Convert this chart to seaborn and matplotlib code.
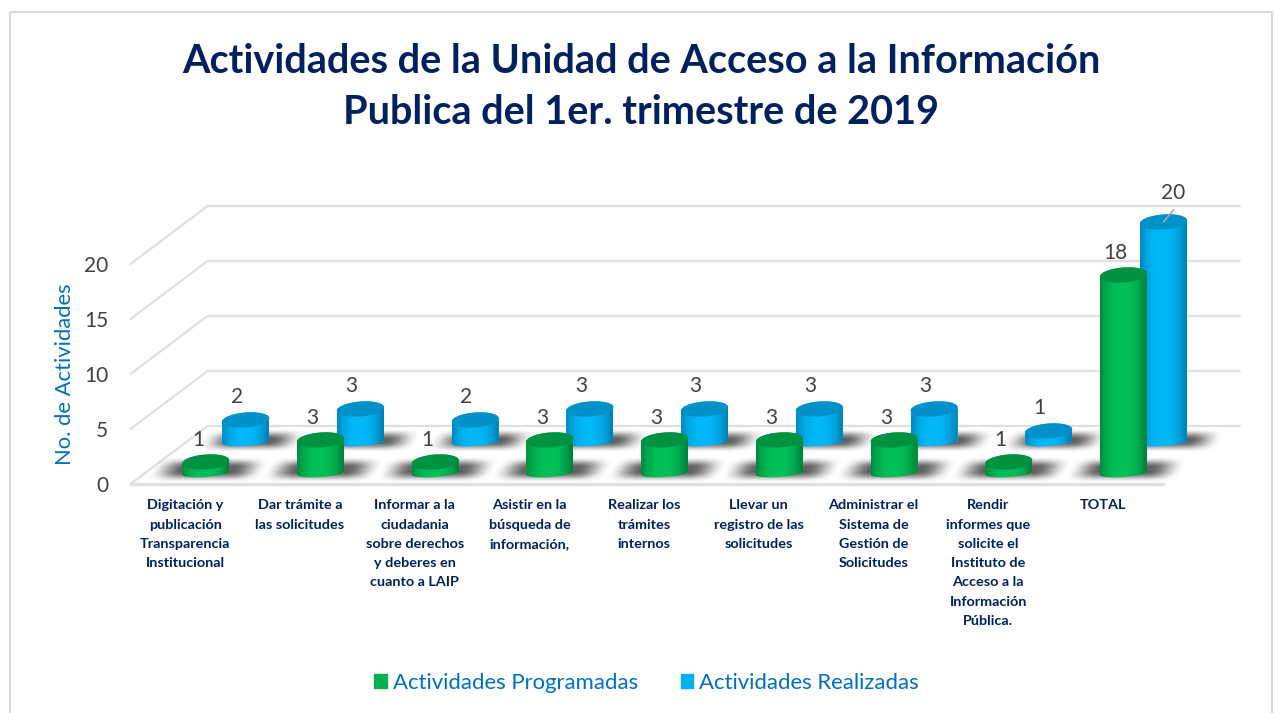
import numpy as np
import pandas as pd
import matplotlib
matplotlib.use("Agg")
import matplotlib.pyplot as plt
import seaborn as sns
from matplotlib.patches import Patch, Rectangle, PathPatch
from matplotlib.path import Path
from matplotlib.colors import to_rgb
from matplotlib.transforms import Affine2D

# Datos del grafico
categorias = ["Digitación", "Trámite", "Informar", "Asistir", "Realizar",
              "Registro", "Administrar", "Rendir", "TOTAL"]
etiquetas = [
    "Digitación y\npublicación\nTransparencia\nInstitucional",
    "Dar trámite a\nlas solicitudes",
    "Informar a la\nciudadania\nsobre derechos\ny deberes en\ncuanto a LAIP",
    "Asistir en la\nbúsqueda de\ninformación,",
    "Realizar los\ntrámites\ninternos",
    "Llevar un\nregistro de las\nsolicitudes",
    "Administrar el\nSistema de\nGestión de\nSolicitudes",
    "Rendir\ninformes que\nsolicite el\nInstituto de\nAcceso a la\nInformación\nPública.",
    "TOTAL",
]
programadas = [1, 3, 1, 3, 3, 3, 3, 1, 18]
realizadas = [2, 3, 2, 3, 3, 3, 3, 1, 20]
ticks_y = [0, 5, 10, 15, 20]
titulo = "Actividades de la Unidad de Acceso a la Información\nPublica del 1er. trimestre de 2019"

W, H = 1275, 713
PX_X = 114.7   # pixeles por categoria
PX_Y = 11.0    # pixeles por actividad
VERDE = "#00B050"
AZUL = "#00B0F0"
GRIS = "#404040"
LINEA = "#e0e0e0"
FUENTE = ["Lato", "DejaVu Sans"]

sns.set_theme(style="white")
plt.rcParams["font.family"] = FUENTE

fig = plt.figure(figsize=(W / 100, H / 100), dpi=100)


def ejes(x0, y_cero, y_min, y_max, z):
    # ejes colocados en pixeles de la figura
    y_abajo = y_cero - y_min * PX_Y
    ax = fig.add_axes([x0 / W, 1 - y_abajo / H, 9 * PX_X / W, (y_max - y_min) * PX_Y / H], zorder=z)
    ax.patch.set_alpha(0)
    return ax


# marco exterior y sombras en pixeles
ax_fondo = fig.add_axes([0, 0, 1, 1], zorder=0)
ax_fondo.set_xlim(0, W)
ax_fondo.set_ylim(H, 0)
ax_fondo.axis("off")
ax_fondo.add_patch(Rectangle((10, 12), 1262, 720, fill=False, ec="#d9d9d9", lw=1.5))

# plano frontal: eje de valores, etiquetas y rejilla
ax_base = ejes(130.5, 484, 0, 20, 1)
ax_base.set_xlim(-0.5, 8.5)
ax_base.set_ylim(0, 20)
fondo_x = 77 / PX_X
fondo_y = 58 / PX_Y
for v in ticks_y:
    ax_base.plot([-0.5, -0.5 + fondo_x, 8.5 + fondo_x], [v, v + fondo_y, v + fondo_y],
                 color=LINEA, lw=1.6, clip_on=False, solid_joinstyle="miter")
ax_base.plot([-0.5, 8.5], [0, 0], color=LINEA, lw=2.4, clip_on=False)
ax_base.set_yticks(ticks_y)
ax_base.set_xticks(range(len(etiquetas)))
ax_base.set_xticklabels(etiquetas, fontsize=10.4, fontweight="bold", color="#002060", linespacing=1.73)
ax_base.tick_params(axis="x", length=0, pad=11)
ax_base.tick_params(axis="y", length=0, pad=16, labelsize=15, labelcolor=GRIS)
for lab in ax_base.get_xticklabels():
    lab.set_transform(lab.get_transform() + Affine2D().translate(-2.5, 0))
ax_base.set_ylabel("No. de Actividades", fontsize=15.8, color="#0070C0")
ax_base.yaxis.set_label_coords((75 - 130.5) / (9 * PX_X), (484 - 374) / (20 * PX_Y))
sns.despine(ax=ax_base, left=True, bottom=True)

# capa de sombras (debajo de las barras)
ax_sombra = fig.add_axes([0, 0, 1, 1], zorder=2)
ax_sombra.patch.set_alpha(0)
ax_sombra.axis("off")

# barras: azul detras, verde delante
df = pd.DataFrame({"categoria": categorias, "prog": programadas, "real": realizadas})
ax_azul = ejes(130.5 + 58, 442, -1, 25, 3)
ax_verde = ejes(130.5 + 18, 473, -1, 25, 4)
sns.barplot(data=df, x="categoria", y="real", color=AZUL, saturation=1, width=47 / PX_X, linewidth=0, ax=ax_azul)
sns.barplot(data=df, x="categoria", y="prog", color=VERDE, saturation=1, width=47 / PX_X, linewidth=0, ax=ax_verde)


def cilindro(ax, patch, borde, centro, tapa):
    x0 = patch.get_x()
    w = patch.get_width()
    alto = patch.get_height()
    cx = x0 + w / 2
    t = np.linspace(0, np.pi, 40)
    inclina = 0.07 * PX_X / PX_Y  # las elipses suben hacia la derecha
    ex = np.cos(t) * w / 2
    tapa_r = 7.5 / PX_Y
    base_r = 4.0 / PX_Y
    # contorno: tapa superior + lado + base inferior
    arriba = np.c_[cx + ex, alto + np.sin(t) * tapa_r + ex * inclina]
    abajo = np.c_[cx - ex, -np.sin(t) * base_r - ex * inclina]
    contorno = np.vstack([arriba, abajo, arriba[:1]])
    borde, centro, tapa = to_rgb(borde), to_rgb(centro), to_rgb(tapa)
    s = np.linspace(-1, 1, 64)
    f = np.clip(1 - np.abs(s + 0.05) ** 2.4, 0, 1)[None, :, None]
    img = np.array(borde)[None, None, :] * (1 - f) + np.array(centro)[None, None, :] * f
    im = ax.imshow(img, extent=(x0, x0 + w, -2, alto + 2), aspect="auto", zorder=3, interpolation="bilinear")
    lado = PathPatch(Path(contorno), fc="none", ec="none", transform=ax.transData)
    ax.add_patch(lado)
    im.set_clip_path(lado)
    # tapa superior
    t2 = np.linspace(0, 2 * np.pi, 80)
    ex2 = np.cos(t2) * w / 2
    ax.fill(cx + ex2, alto + np.sin(t2) * tapa_r + ex2 * inclina, color=tapa, zorder=4, lw=0)


for ax, valores, colores in [
    (ax_azul, realizadas, ("#0083b8", "#00b8f8", "#0091cb")),
    (ax_verde, programadas, ("#00843a", "#00c059", "#009141")),
]:
    for patch in list(ax.patches)[:len(valores)]:
        patch.set_zorder(2)
        cilindro(ax, patch, *colores)
    ax.set_xlim(-0.5, 8.5)
    ax.set_ylim(-1, 25)
    ax.axis("off")

# sombras desenfocadas a partir de la posicion de cada barra
yy, xx = np.mgrid[0:H, 0:W]
sombra = np.zeros((H, W))


def suave(t):
    t = np.clip(t, 0, 1)
    return t * t * (3 - 2 * t)


for ax, dx, dy, hw, hh in [(ax_azul, 6, -2, 52, 12), (ax_verde, 2, -4, 58, 13)]:
    for i in range(len(categorias)):
        px, py = ax.transData.transform((i, 0))
        py = H - py
        u = (xx - (px + dx)) + 0.55 * (yy - (py + dy))
        v = yy - (py + dy)
        a = suave((hw - np.abs(u)) / 34) * suave((hh - np.abs(v)) / 11)
        sombra = 1 - (1 - sombra) * (1 - 0.8 * a)
capa = np.zeros((H, W, 4))
capa[..., :3] = 0.22
capa[..., 3] = sombra
ax_sombra.imshow(capa, extent=(0, W, H, 0), aspect="auto", interpolation="bilinear")
ax_sombra.set_xlim(0, W)
ax_sombra.set_ylim(H, 0)
ax_sombra.axis("off")

# etiquetas de datos
for i, v in enumerate(programadas):
    ax_verde.annotate(str(v), (i, v), xytext=(-8, 22), textcoords="offset pixels", ha="center", va="center",
                      fontsize=15, color=GRIS, annotation_clip=False, zorder=6)
for i, v in enumerate(realizadas):
    if categorias[i] == "TOTAL":
        ax_azul.annotate(str(v), (i, v), xytext=(10, 29), textcoords="offset pixels", ha="center", va="center",
                         fontsize=15, color=GRIS, annotation_clip=False, zorder=6)
        ax_azul.annotate("", (i, v), xytext=(10, 12), textcoords="offset pixels", annotation_clip=False, zorder=6,
                         arrowprops=dict(arrowstyle="-", color="#a6a6a6", lw=1.2, shrinkA=0, shrinkB=0))
    else:
        ax_azul.annotate(str(v), (i, v), xytext=(-9, 23), textcoords="offset pixels", ha="center", va="center",
                         fontsize=15, color=GRIS, annotation_clip=False, zorder=6)

fig.suptitle(titulo, x=641 / W, y=1 - 87 / H, va="center", fontsize=28.5, fontweight="bold", color="#002060",
             linespacing=1.47)

manejadores = [Patch(color=VERDE, label="Actividades Programadas"), Patch(color=AZUL, label="Actividades Realizadas")]
fig.legend(handles=manejadores, loc="center", bbox_to_anchor=(646.5 / W, 1 - 683 / H), ncol=2, frameon=False,
           fontsize=15.9, labelcolor="#0070C0", handlelength=0.58, handleheight=0.58, handletextpad=0.27,
           columnspacing=1.93)

fig.savefig("out.png", dpi=100)
